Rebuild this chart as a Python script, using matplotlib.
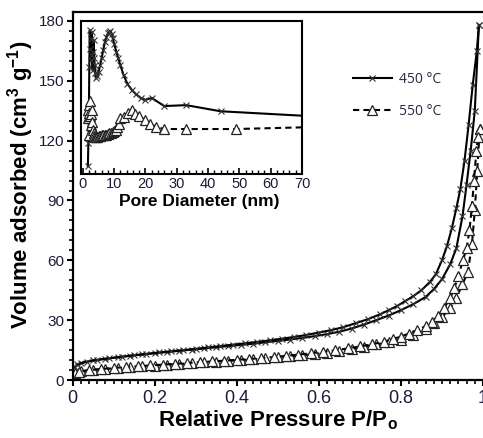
import matplotlib
matplotlib.use("Agg")
import matplotlib.pyplot as plt
from matplotlib.ticker import MultipleLocator, FuncFormatter
from matplotlib.lines import Line2D

plt.rcParams['font.family'] = ['Liberation Sans', 'DejaVu Sans']
plt.rcParams['mathtext.fontset'] = 'custom'
plt.rcParams['mathtext.rm'] = 'Liberation Sans'
plt.rcParams['mathtext.bf'] = 'Liberation Sans:bold'

# ---------------- main isotherms ----------------
p450_ads = [0.005, 0.02, 0.05, 0.08, 0.11, 0.14, 0.17, 0.2, 0.23, 0.26, 0.29, 0.32, 0.35, 0.38,
            0.41, 0.44, 0.47, 0.5, 0.53, 0.56, 0.59, 0.62, 0.65, 0.68, 0.71, 0.74, 0.77, 0.8,
            0.83, 0.86, 0.88, 0.9, 0.92, 0.935, 0.95, 0.96, 0.97, 0.98, 0.99]
v450_ads = [6.5, 8.5, 9.8, 10.6, 11.4, 12.1, 12.8, 13.4, 14.0, 14.6, 15.2, 15.8, 16.4, 17.0,
            17.6, 18.2, 18.9, 19.6, 20.3, 21.1, 22.0, 23.0, 24.2, 25.8, 27.8, 30.0, 32.3, 35.0,
            38.0, 41.6, 45.5, 50.5, 58.0, 66.0, 82.0, 98.0, 115.0, 135.0, 178.0]
p450_des = [0.99, 0.985, 0.975, 0.965, 0.955, 0.945, 0.935, 0.924, 0.912, 0.9, 0.885, 0.87,
            0.85, 0.83, 0.81, 0.79, 0.77, 0.75, 0.72, 0.69, 0.66, 0.63, 0.6, 0.57, 0.54, 0.51,
            0.48, 0.45, 0.42, 0.39, 0.36, 0.33, 0.3, 0.27, 0.24, 0.21, 0.18, 0.15, 0.12, 0.09,
            0.06, 0.035, 0.01]
v450_des = [178.0, 165.0, 148.0, 128.0, 110.0, 96.0, 86.0, 76.0, 67.0, 60.0, 53.0, 49.0,
            45.0, 42.0, 39.5, 37.0, 35.0, 33.0, 30.5, 28.5, 26.5, 25.0, 23.8, 22.6, 21.6, 20.7,
            19.9, 19.1, 18.4, 17.7, 17.0, 16.3, 15.6, 15.0, 14.4, 13.8, 13.1, 12.4, 11.7, 10.9,
            10.1, 9.2, 7.8]

p550_ads = [0.005, 0.02, 0.05, 0.08, 0.11, 0.14, 0.17, 0.2, 0.23, 0.26, 0.29, 0.32, 0.35, 0.38,
            0.41, 0.44, 0.47, 0.5, 0.53, 0.56, 0.59, 0.62, 0.65, 0.68, 0.71, 0.74, 0.77, 0.8,
            0.83, 0.86, 0.88, 0.9, 0.92, 0.935, 0.95, 0.963, 0.973, 0.98, 0.986, 0.992]
v550_ads = [3.5, 4.3, 5.0, 5.5, 6.0, 6.4, 6.8, 7.2, 7.6, 8.0, 8.4, 8.8, 9.2, 9.6,
            10.0, 10.4, 10.8, 11.3, 11.8, 12.4, 13.0, 13.7, 14.5, 15.5, 16.6, 17.8, 19.0, 20.2,
            22.5, 25.5, 28.5, 31.5, 36.0, 41.0, 48.0, 54.0, 68.0, 85.0, 105.0, 126.0]
p550_des = [0.992, 0.988, 0.984, 0.978, 0.973, 0.967, 0.96, 0.951, 0.94, 0.93, 0.92, 0.905,
            0.89, 0.875, 0.86, 0.84, 0.82, 0.8, 0.78, 0.76, 0.73, 0.7, 0.67, 0.64, 0.61, 0.58,
            0.55, 0.52, 0.49, 0.46, 0.43, 0.4, 0.37, 0.34, 0.31, 0.28, 0.25, 0.22, 0.19, 0.16,
            0.13, 0.1, 0.07, 0.04, 0.015]
v550_des = [126.0, 122.0, 115.0, 100.0, 87.0, 75.0, 66.0, 60.0, 52.0, 46.0, 41.0, 36.0,
            32.0, 29.0, 27.0, 25.0, 23.3, 21.8, 20.5, 19.3, 17.9, 16.8, 15.8, 14.9, 14.1, 13.4,
            12.7, 12.1, 11.5, 11.0, 10.5, 10.1, 9.7, 9.3, 8.9, 8.5, 8.1, 7.7, 7.3, 6.9,
            6.5, 6.0, 5.5, 5.0, 4.2]

# ---------------- inset pore size distribution (arbitrary units) ----------------
d450 = [1.6, 1.75, 1.9, 2.05, 2.2, 2.35, 2.5, 2.65, 2.8, 2.95, 3.1, 3.25, 3.4, 3.6, 3.8, 4.0,
        4.2, 4.6, 5.0, 5.5, 6.0, 6.5, 7.0, 7.5, 8.0, 8.4, 8.8, 9.2, 9.5, 10.0, 10.7, 11.3,
        12.0, 13.0, 14.2, 15.6, 17.0, 18.5, 20.0, 22.0, 26.0, 33.0, 44.0, 80.0]
f450 = [5.2, 20.0, 35.0, 70.0, 94.0, 82.0, 74.5, 88.0, 93.0, 78.0, 68.0, 80.0, 87.6, 76.0, 71.0, 66.0,
        62.7, 64.0, 66.7, 71.0, 75.8, 81.0, 86.0, 89.5, 92.0, 93.0, 93.5, 91.5, 89.0, 85.0, 80.0, 75.5,
        71.0, 64.7, 59.0, 55.0, 52.0, 49.7, 48.5, 49.7, 44.4, 45.0, 41.0, 37.0]
d550 = [1.5, 1.65, 1.8, 1.9, 2.0, 2.1, 2.2, 2.35, 2.5, 2.65, 2.8, 3.0, 3.2, 3.4, 3.6, 3.9,
        4.2, 4.6, 5.0, 5.5, 6.0, 6.5, 7.0, 7.5, 8.0, 8.5, 9.0, 9.5, 10.0, 10.5, 11.0, 11.5,
        12.0, 13.0, 14.3, 15.6, 16.7, 18.0, 20.0, 21.5, 23.5, 26.0, 33.0, 49.0, 80.0]
f550 = [36.6, 42.0, 45.0, 38.0, 25.5, 40.0, 48.0, 38.0, 32.0, 39.0, 42.0, 34.0, 29.0, 27.0, 25.0, 24.5,
        24.0, 24.5, 25.0, 25.0, 25.5, 25.5, 25.5, 25.8, 26.0, 26.5, 27.0, 27.5, 28.0, 29.0, 30.7, 33.0,
        36.6, 37.0, 40.0, 42.0, 39.0, 38.0, 35.0, 32.7, 30.7, 29.4, 29.4, 29.4, 31.0]

labels = ['450 \u00b0C', '550 \u00b0C']
tick_col = '#1b1b3a'

fig = plt.figure(figsize=(4.83, 4.38), dpi=100)
W, H = 483.0, 438.0
ax = fig.add_axes([72.5 / W, (H - 380) / H, (483 - 72.5) / W, (380 - 12) / H])

line_kw = dict(color='black', lw=1.5)
xk = dict(marker='x', ms=4, mew=0.8, mec='#333333')
tk = dict(marker='^', ms=6.5, mew=0.9, mfc='white', mec='#222222')
ax.plot(p450_ads, v450_ads, ls='-', **line_kw, **xk)
ax.plot(p450_des, v450_des, ls='-', **line_kw, **xk)
ax.plot(p550_ads, v550_ads, ls=(0, (3, 2)), **line_kw, **tk)
ax.plot(p550_des, v550_des, ls=(0, (3, 2)), **line_kw, **tk)

ax.set_xlim(0, 1.0)
ax.set_ylim(0, 184.5)
ax.xaxis.set_major_locator(MultipleLocator(0.2))
ax.xaxis.set_minor_locator(MultipleLocator(0.02))
ax.yaxis.set_major_locator(MultipleLocator(30))
ax.yaxis.set_minor_locator(MultipleLocator(5))
ax.xaxis.set_major_formatter(FuncFormatter(lambda v, p: f"{v:g}"))
ax.tick_params(axis='both', which='major', direction='out', length=4, width=1.5, color='black')
ax.tick_params(axis='both', which='minor', direction='out', length=3, width=1.2, color='black')
ax.tick_params(axis='x', labelsize=13, labelcolor=tick_col, pad=3)
ax.tick_params(axis='y', labelsize=11, labelcolor=tick_col, pad=2)
for s in ['left', 'bottom', 'top']:
    ax.spines[s].set_linewidth(1.6)
ax.spines['right'].set_visible(False)

ax.set_xlabel(r'Relative Pressure P/P$_\mathbf{o}$', fontsize=16, fontweight='bold', labelpad=1)
ax.set_ylabel(r'Volume adsorbed (cm$^\mathbf{3}$ g$^\mathbf{-1}$)', fontsize=16, fontweight='bold')
ax.yaxis.set_label_coords(-0.088, 0.53)

handles = [Line2D([], [], ls='-', **line_kw, **xk), Line2D([], [], ls=(0, (3, 2)), **line_kw, **tk)]
leg = ax.legend(handles, labels, loc='upper left', bbox_to_anchor=((353 - 72.5) / 410.5, (380 - 72) / 368),
                frameon=False, borderpad=0, borderaxespad=0, handlelength=2.8, handletextpad=0.5,
                labelspacing=1.2, numpoints=1, prop={'family': 'Open Sans', 'size': 10})
for t in leg.get_texts():
    t.set_color('#2a2a40')

# ---------------- inset ----------------
ins = fig.add_axes([81 / W, (H - 174) / H, (302 - 81) / W, (174 - 21) / H])
ins.set_facecolor('white')
ins.plot(d450, f450, ls='-', **line_kw, **xk)
ins.plot(d550, f550, ls=(0, (3, 2)), **line_kw, **tk)
ins.set_xlim(-0.6, 70)
ins.set_ylim(0, 100)
ins.set_yticks([])
ins.xaxis.set_major_locator(MultipleLocator(10))
ins.xaxis.set_minor_locator(MultipleLocator(2))
ins.tick_params(axis='x', which='major', direction='in', length=4, width=1.2, labelsize=10.5,
                labelcolor=tick_col, pad=2)
ins.tick_params(axis='x', which='minor', direction='in', length=3, width=1.0)
for s in ins.spines.values():
    s.set_linewidth(1.5)
ins.set_xlabel('Pore Diameter (nm)', fontsize=12.5, fontweight='bold', labelpad=0)
ins.xaxis.set_label_coords(0.534, -0.13)

fig.savefig('out.png', dpi=100)
